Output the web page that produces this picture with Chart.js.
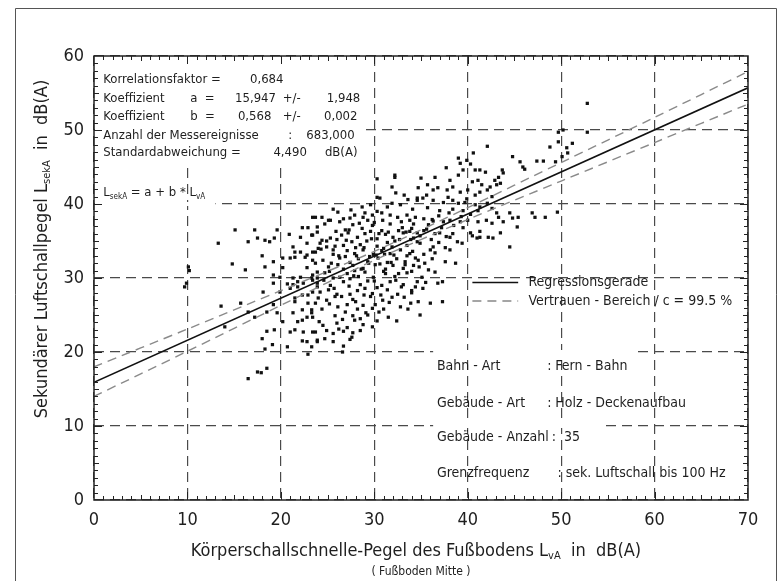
<!DOCTYPE html>
<html>
<head>
<meta charset="utf-8">
<script src="https://cdn.jsdelivr.net/npm/chart.js@4.4.1/dist/chart.umd.min.js"></script>
<style>
  html, body { margin: 0; padding: 0; background: #fff; }
  #wrap { width: 782px; height: 581px; }
</style>
</head>
<body>
<div id="wrap"><canvas id="chart" width="782" height="581"></canvas></div>
<script>
// Achsen
const xTicks = [0, 10, 20, 30, 40, 50, 60, 70];
const yTicks = [0, 10, 20, 30, 40, 50, 60];

// Regressionsgerade L_sekA = a + b * L_vA
const regX = [0, 70];
const regY = [15.9, 55.7];

// Vertrauensbereich (gestrichelt)
const bandX     = [0, 10, 20, 30, 40, 50, 60, 70];
const bandOben  = [18.0, 23.1, 28.3, 33.6, 39.5, 45.6, 51.7, 57.9];
const bandUnten = [14.0, 20.1, 26.3, 32.4, 37.9, 43.1, 48.3, 53.5];

// Messpunkte [L_vA, L_sekA]
const messpunkte = [
  [10.1,31.5],[10.2,31.0],[9.7,28.8],[9.9,29.3],[13.3,34.7],[15.1,36.5],[17.2,36.5],[16.5,34.9],[17.5,35.4],
  [18.3,35.1],[18.8,34.9],[19.3,35.4],[19.6,36.5],[20.9,35.9],[22.3,36.8],[23.4,38.2],
  [14.8,31.9],[16.2,31.1],[18.0,33.0],[18.3,31.5],[19.2,32.2],[20.2,32.7],[21.0,32.7],[21.5,32.8],
  [20.2,31.4],[19.2,30.4],[19.9,30.1],[19.2,29.3],[18.1,28.1],[19.9,28.1],[20.7,29.2],[21.3,29.1],
  [21.8,29.5],[22.4,29.3],[13.6,26.2],[15.7,26.6],[16.5,25.4],[17.2,24.7],[14.0,23.4],[18.5,25.4],
  [19.6,25.3],[19.2,26.4],[20.2,24.1],[21.5,26.8],[21.3,25.3],[21.8,24.1],[22.3,24.3],[22.3,25.7],
  [22.8,24.7],[23.3,25.3],[18.5,22.8],[19.3,23.0],[18.0,21.8],[21.0,22.7],[21.5,23.0],[22.4,22.7],
  [22.3,21.5],[22.8,21.4],[23.7,22.7],[23.9,21.4],[18.3,20.4],[19.1,21.0],[20.7,20.7],[22.9,19.7],
  [17.5,17.3],[17.9,17.2],[18.5,17.8],[16.5,16.4],[23.9,30.0],[23.4,29.7],[23.9,28.8],
  [22.1,33.5],[22.6,32.8],[23.4,33.5],[23.7,32.0],[22.8,31.4],[23.9,30.8],[23.3,30.0],[22.1,30.1],
  [21.3,30.0],[21.0,28.6],[21.8,28.8],[23.4,28.1],[22.9,27.7],[22.3,27.7],[21.5,27.3],[22.9,26.6],
  [23.7,26.6],[23.3,25.7],[21.5,33.5],[25.1,37.8],[26.3,37.6],[29.0,38.8],[29.8,38.5],[30.3,39.0],
  [22.9,36.8],[22.1,35.5],[23.3,35.8],[23.9,36.2],[21.3,34.2],[22.8,34.7],[24.4,35.1],[24.9,34.2],
  [25.6,33.8],[22.8,33.1],[23.4,32.4],
  [30.3,43.4],[32.2,43.9],[31.9,42.3],[32.3,41.5],[30.3,40.9],[30.6,40.8],[31.9,40.1],[34.6,40.8],
  [28.7,39.6],[23.7,38.2],[24.4,38.2],[25.3,37.8],[26.7,38.0],[27.4,38.1],[27.9,38.5],[28.8,38.2],
  [29.3,37.8],[30.8,38.8],[30.9,37.8],[31.7,38.5],[32.5,38.2],[33.5,38.5],[33.8,37.8],[34.4,38.2],
  [23.9,36.9],[24.7,37.3],[26.9,36.5],[27.7,37.2],[28.7,36.7],[29.8,37.1],[30.8,36.4],[31.7,37.3],[33.0,36.8],[33.8,36.3],
  [23.4,35.8],[25.3,35.4],[27.2,36.1],[28.2,35.5],[29.0,36.0],[30.3,35.3],[31.2,35.9],[32.0,35.5],[33.1,36.1],[34.2,35.4],
  [24.2,34.7],[24.9,35.0],[26.7,34.4],[27.6,34.9],[28.5,34.5],[29.2,35.0],[30.3,34.3],[31.4,34.8],[32.2,35.0],[33.5,34.4],[34.6,34.9],
  [23.7,33.5],[25.6,33.2],[27.1,33.7],[27.9,33.3],[28.8,33.8],[29.9,33.2],[30.8,33.7],[31.7,33.3],[32.8,33.8],[33.8,33.3],
  [24.5,32.4],[26.3,32.7],[27.4,32.1],[28.3,32.6],[29.3,32.2],[30.4,32.7],[31.4,32.1],[32.4,32.6],[33.3,32.2],[34.4,32.7],
  [25.1,31.5],[26.7,31.2],[27.7,31.7],[28.8,31.3],[30.1,31.8],[31.2,31.2],[32.0,31.7],[33.1,31.3],[34.2,31.7],
  [26.0,35.2],[28.0,34.1],[29.6,36.3],[31.0,34.0],[32.6,36.4],[26.2,33.0],[29.5,32.9],[32.1,33.1],[27.9,31.0],[30.6,31.9],
  [25.9,36.3],[24.0,34.0],[33.5,33.0],[30.0,37.5],[28.4,37.4],[32.9,37.6],[31.5,36.2],[27.0,35.1],[33.9,35.2],[25.4,32.0],
  [23.4,30.4],[24.7,30.7],[26.3,30.1],[27.1,30.6],[28.3,30.2],[29.0,30.8],[29.9,30.1],[31.2,30.6],[32.2,30.2],[33.5,30.7],
  [23.9,29.3],[25.3,29.0],[26.7,29.5],[28.5,29.1],[29.3,29.6],[30.8,29.0],[31.7,29.5],[33.1,29.1],[34.6,29.5],
  [24.2,28.1],[25.1,28.4],[26.0,27.8],[28.2,28.3],[29.8,27.9],[31.4,28.4],[32.5,27.8],[34.0,28.3],
  [24.0,27.3],[24.9,27.0],[25.8,27.5],[27.7,27.1],[29.6,27.5],[30.9,27.0],[31.9,27.4],
  [26.1,26.1],[27.1,26.4],[28.2,25.8],[28.8,26.3],[29.8,25.9],[30.1,26.4],[32.8,26.1],[33.6,25.8],
  [23.4,24.7],[25.8,24.9],[26.6,24.4],[27.7,24.9],[28.5,24.5],[29.3,25.0],[31.5,24.7],[32.4,24.2],
  [24.5,23.6],[26.0,23.9],[27.1,23.3],[28.8,23.7],[29.8,23.4],
  [23.4,22.7],[24.9,22.9],[25.6,22.5],[26.7,22.8],[27.7,22.6],[28.5,22.9],
  [23.9,21.6],[24.7,21.8],[25.6,21.4],[27.4,21.7],[23.3,20.7],[26.7,20.8],[26.6,20.0],
  [27.4,29.9],[30.3,28.7],[32.9,28.8],[25.6,30.0],[28.9,27.7],[30.5,25.4],[27.4,27.8],
  [24.3,33.9],[25.8,34.3],[26.5,35.8],[27.3,36.5],[28.1,33.0],[28.9,34.1],[29.7,35.3],[30.5,36.0],
  [31.1,33.2],[31.9,34.2],[32.7,35.2],[33.4,36.2],[34.1,33.6],[34.9,35.7],[35.6,36.6],[36.2,37.9],
  [36.9,34.8],[37.7,35.6],[38.5,37.1],[39.3,38.3],
  [25.2,30.9],[26.1,31.8],[26.9,32.9],[27.8,30.3],[28.6,31.2],[29.4,32.0],[30.2,33.1],[31.0,30.9],
  [31.8,32.1],[32.6,30.6],[33.3,31.8],[34.0,30.9],[34.8,31.5],[35.5,29.4],[36.2,32.6],
  [24.6,29.7],[25.7,28.6],[26.5,27.5],[27.3,28.9],[28.0,26.8],[29.0,28.6],[30.0,29.6],[30.7,27.7],
  [31.6,26.7],[32.3,29.7],[33.2,27.4],[33.9,26.6],
  [24.4,25.8],[25.2,26.5],[26.9,25.4],[27.9,24.3],[29.1,25.3],[30.3,24.2],[31.0,25.8],[26.2,23.1],
  [27.6,22.0],[24.1,24.1],
  [31.4,39.6],[32.8,39.9],[33.6,40.6],[29.6,39.9],[27.5,39.2],[33.2,41.2],[35.0,43.5],[34.2,37.3],
  [26.1,38.9],[25.6,39.3],
  [52.8,53.6],[49.7,49.7],[50.2,50.0],[52.8,49.7],[49.7,48.4],[51.2,48.2],[48.8,47.7],[50.6,47.6],
  [50.7,46.9],[49.4,45.7],[50.1,46.4],[47.4,45.8],[48.1,45.8],[44.8,46.4],[45.6,45.7],[45.9,45.0],
  [46.1,44.7],[42.1,47.8],[40.6,46.9],[39.0,46.2],[39.9,45.9],[40.3,45.4],[37.7,44.9],[39.5,44.6],
  [40.8,44.6],[41.3,44.6],[41.9,44.3],[43.7,44.6],[43.8,44.2],[43.3,43.6],[43.5,42.8],[36.5,43.6],
  [39.0,43.9],[38.1,43.2],[41.1,43.2],[40.5,43.0],[41.5,42.6],[42.4,42.3],[42.9,43.2],[43.1,42.6],
  [34.7,42.2],[35.7,42.6],[36.3,41.9],[36.8,42.2],[37.8,41.9],[38.4,42.3],[39.2,41.6],[40.0,41.9],
  [40.8,41.2],[41.3,41.6],[42.1,41.9],[42.6,41.0],[32.2,43.6],[39.2,45.5],
  [34.6,40.5],[35.2,40.8],[36.3,40.5],[37.4,40.2],[38.4,40.5],[39.0,40.1],[39.7,40.2],[40.8,39.9],
  [41.3,39.6],[42.1,40.1],[42.6,39.4],
  [34.1,39.3],[35.7,39.5],[37.0,39.1],[38.0,38.8],[38.4,39.3],[39.5,39.1],[40.3,38.6],[41.1,39.1],
  [35.3,38.0],[36.3,37.7],[37.4,37.6],[38.1,37.8],[39.2,37.6],[40.0,37.8],[41.1,37.6],[42.0,37.8],
  [34.0,36.7],[35.3,36.4],[36.5,36.0],[37.2,36.8],[38.4,36.0],[39.5,36.8],[40.5,35.7],[41.3,36.3],
  [42.6,37.4],[43.3,38.2],[43.1,38.8],[43.8,37.6],[44.5,38.8],[44.8,38.1],[45.4,38.2],[45.3,36.9],
  [46.9,38.8],[47.2,38.2],[48.3,38.2],[49.6,38.9],[42.2,35.5],
  [42.7,35.4],[43.5,36.1],[44.5,34.2],[41.0,35.4],[40.3,36.1],[37.0,36.1],[38.1,35.5],[38.9,34.9],
  [39.4,34.7],[36.3,34.2],[37.6,34.1],[38.1,33.8],[37.6,32.2],[38.7,32.0],[34.6,36.1],[34.9,34.7],
  [36.0,33.8],[36.5,33.4],[34.7,32.4],[35.4,32.0],[35.8,31.1],[36.5,30.8],[37.3,29.5],[36.8,29.3],
  [35.1,30.1],[34.4,28.8],[35.2,28.6],[34.0,28.0],[34.7,26.8],[36.0,26.6],[37.3,26.8],[34.9,25.0],
  [41.3,35.5],[35.8,37.2],[36.9,38.4],[37.9,40.9],[35.6,41.2],[39.9,40.7],[36.1,35.2],[35.3,33.2]
];

const FONT = "'Liberation Sans Narrow', 'DejaVu Sans Condensed', 'Liberation Sans', sans-serif";
const INK = '#1e1e1e';

// Text mit Index (L_sekA, L_vA) zeichnen
function drawRich(ctx, parts, x, y, size, align) {
  const subSize = Math.round(size * 0.62);
  let total = 0;
  parts.forEach(p => {
    ctx.font = (p.sub ? subSize : size) + 'px ' + FONT;
    p.w = ctx.measureText(p.t).width;
    total += p.w;
  });
  let cx = align === 'center' ? x - total / 2 : x;
  ctx.textAlign = 'left';
  ctx.textBaseline = 'middle';
  parts.forEach(p => {
    ctx.font = (p.sub ? subSize : size) + 'px ' + FONT;
    ctx.fillText(p.t, cx, p.sub ? y + size * 0.28 : y);
    cx += p.w;
  });
}

const beschriftung = {
  id: 'beschriftung',
  beforeDatasetsDraw(chart) {
    const ctx = chart.ctx;
    const xs = chart.scales.x, ys = chart.scales.y;
    const px = v => xs.getPixelForValue(v);
    const py = v => ys.getPixelForValue(v);
    ctx.save();
    ctx.fillStyle = '#fff';
    // Rasterlinien unter den Textfeldern ausblenden
    const maskH = (yv, x0, x1) => ctx.fillRect(px(x0), py(yv) - 2, px(x1) - px(x0), 4);
    const maskV = (xv, y0, y1) => ctx.fillRect(px(xv) - 2, py(y1), 4, py(y0) - py(y1));
    maskH(50, 0.1, 28.5);
    maskH(40, 0.1, 13.0);
    maskH(20, 36.3, 57.7);
    maskH(10, 36.3, 54.2);
    maskV(10, 45.0, 59.9);
    maskV(20, 45.0, 59.9);
    ctx.restore();
  },
  afterDraw(chart) {
    const ctx = chart.ctx;
    const a = chart.chartArea;
    const xs = chart.scales.x, ys = chart.scales.y;
    const px = v => xs.getPixelForValue(v);
    const py = v => ys.getPixelForValue(v);
    ctx.save();

    // Rahmen des Diagramms
    ctx.strokeStyle = '#222';
    ctx.lineWidth = 1.5;
    ctx.setLineDash([]);
    ctx.strokeRect(a.left, a.top, a.right - a.left, a.bottom - a.top);

    // Teilstriche auf allen vier Seiten
    ctx.lineWidth = 1;
    ctx.beginPath();
    for (let v = 1; v < 70; v++) {
      const len = v % 10 === 0 ? 8 : (v % 5 === 0 ? 5 : 4);
      const x = Math.round(px(v)) + 0.5;
      ctx.moveTo(x, a.bottom); ctx.lineTo(x, a.bottom - len);
      ctx.moveTo(x, a.top); ctx.lineTo(x, a.top + len);
    }
    for (let v = 1; v < 60; v++) {
      const len = v % 10 === 0 ? 8 : (v % 5 === 0 ? 5 : 4);
      const y = Math.round(py(v)) + 0.5;
      ctx.moveTo(a.left, y); ctx.lineTo(a.left + len, y);
      ctx.moveTo(a.right, y); ctx.lineTo(a.right - len, y);
    }
    ctx.stroke();

    // äußerer Rahmen
    ctx.strokeStyle = '#555';
    ctx.lineWidth = 1;
    ctx.beginPath();
    ctx.moveTo(15.5, 581); ctx.lineTo(15.5, 8.5); ctx.lineTo(776.5, 8.5); ctx.lineTo(776.5, 581);
    ctx.stroke();

    ctx.fillStyle = INK;

    // Achsentitel
    drawRich(ctx, [{t: 'Körperschallschnelle-Pegel des Fußbodens L'}, {t: 'vA', sub: true}, {t: '  in  dB(A)'}],
      416, 551, 18, 'center');
    ctx.font = '12px ' + FONT;
    ctx.textAlign = 'center';
    ctx.fillText('( Fußboden Mitte )', 421, 572);

    ctx.save();
    ctx.translate(42, 249);
    ctx.rotate(-Math.PI / 2);
    drawRich(ctx, [{t: 'Sekundärer Luftschallpegel L'}, {t: 'sekA', sub: true}, {t: '  in  dB(A)'}], 0, 0, 18, 'center');
    ctx.restore();

    // Kennwerte der Regression
    const s = 13;
    ctx.font = s + 'px ' + FONT;
    ctx.textBaseline = 'middle';
    const left = (t, x, y) => { ctx.textAlign = 'left'; ctx.fillText(t, px(x), py(y)); };
    const right = (t, x, y) => { ctx.textAlign = 'right'; ctx.fillText(t, px(x), py(y)); };
    left('Korrelationsfaktor =', 1.0, 56.8);   left('0,684', 16.7, 56.8);
    left('Koeffizient', 1.0, 54.3); left('a  =', 10.3, 54.3); left('15,947', 15.1, 54.3); left('+/-', 20.2, 54.3); right('1,948', 28.5, 54.3);
    left('Koeffizient', 1.0, 51.8); left('b  =', 10.3, 51.8); left('0,568', 15.4, 51.8); left('+/-', 20.2, 51.8); right('0,002', 28.2, 51.8);
    left('Anzahl der Messereignisse', 1.0, 49.3); left(':', 20.8, 49.3); right('683,000', 27.9, 49.3);
    left('Standardabweichung =', 1.0, 46.9); left('4,490', 19.2, 46.9); right('dB(A)', 28.2, 46.9);
    drawRich(ctx, [{t: 'L'}, {t: 'sekA', sub: true}, {t: ' = a + b * L'}, {t: 'vA', sub: true}], px(1.0), py(41.5), s, 'left');

    // Legende
    ctx.strokeStyle = '#111';
    ctx.lineWidth = 1.6;
    ctx.beginPath(); ctx.moveTo(px(40.5), py(29.4)); ctx.lineTo(px(45.4), py(29.4)); ctx.stroke();
    ctx.strokeStyle = '#888';
    ctx.setLineDash([9, 6]);
    ctx.beginPath(); ctx.moveTo(px(40.5), py(26.9)); ctx.lineTo(px(45.4), py(26.9)); ctx.stroke();
    ctx.setLineDash([]);
    ctx.font = '14px ' + FONT;
    left('Regressionsgerade', 46.5, 29.4);
    left('Vertrauen - Bereich / c = 99.5 %', 46.5, 26.9);

    // Angaben zur Messreihe
    left('Bahn - Art', 36.7, 18.0);         left(': Fern - Bahn', 48.5, 18.0);
    left('Gebäude - Art', 36.7, 13.1);      left(': Holz - Deckenaufbau', 48.5, 13.1);
    left('Gebäude - Anzahl', 36.7, 8.4);    left(':  35', 49.0, 8.4);
    left('Grenzfrequenz', 36.7, 3.6);       left(': sek. Luftschall bis 100 Hz', 49.6, 3.6);

    ctx.restore();
  }
};

const achse = (min, max, ticks, afterFit) => ({
  type: 'linear',
  min: min,
  max: max,
  afterFit: afterFit,
  ticks: {
    stepSize: 10,
    padding: 10,
    color: INK,
    font: { size: 18, family: FONT },
    callback: v => ticks.includes(v) ? String(v) : ''
  },
  grid: { color: '#4a4a4a', lineWidth: 1.2, drawTicks: false },
  border: { display: false, dash: [10, 6] },
  title: { display: false }
});

new Chart(document.getElementById('chart'), {
  type: 'scatter',
  data: {
    datasets: [
      {
        label: 'Regressionsgerade',
        data: regX.map((x, i) => ({ x: x, y: regY[i] })),
        showLine: true, borderColor: '#111', borderWidth: 1.6, pointRadius: 0
      },
      {
        label: 'Vertrauen oben',
        data: bandX.map((x, i) => ({ x: x, y: bandOben[i] })),
        showLine: true, borderColor: '#8a8a8a', borderWidth: 1.4, borderDash: [9, 6], pointRadius: 0, tension: 0.3
      },
      {
        label: 'Vertrauen unten',
        data: bandX.map((x, i) => ({ x: x, y: bandUnten[i] })),
        showLine: true, borderColor: '#8a8a8a', borderWidth: 1.4, borderDash: [9, 6], pointRadius: 0, tension: 0.3
      },
      {
        label: 'Messereignisse',
        data: messpunkte.map(p => ({ x: p[0], y: p[1] })),
        pointStyle: 'rect', pointRadius: 2.3, backgroundColor: '#111', borderWidth: 0
      }
    ]
  },
  options: {
    responsive: false,
    animation: false,
    layout: { padding: { left: 34, right: 34, top: 56, bottom: 41 } },
    plugins: { legend: { display: false }, tooltip: { enabled: false } },
    scales: {
      x: achse(0, 70, xTicks, s => { s.height = 40; }),
      y: achse(0, 60, yTicks, s => { s.width = 60; })
    }
  },
  plugins: [beschriftung]
});
</script>
</body>
</html>
